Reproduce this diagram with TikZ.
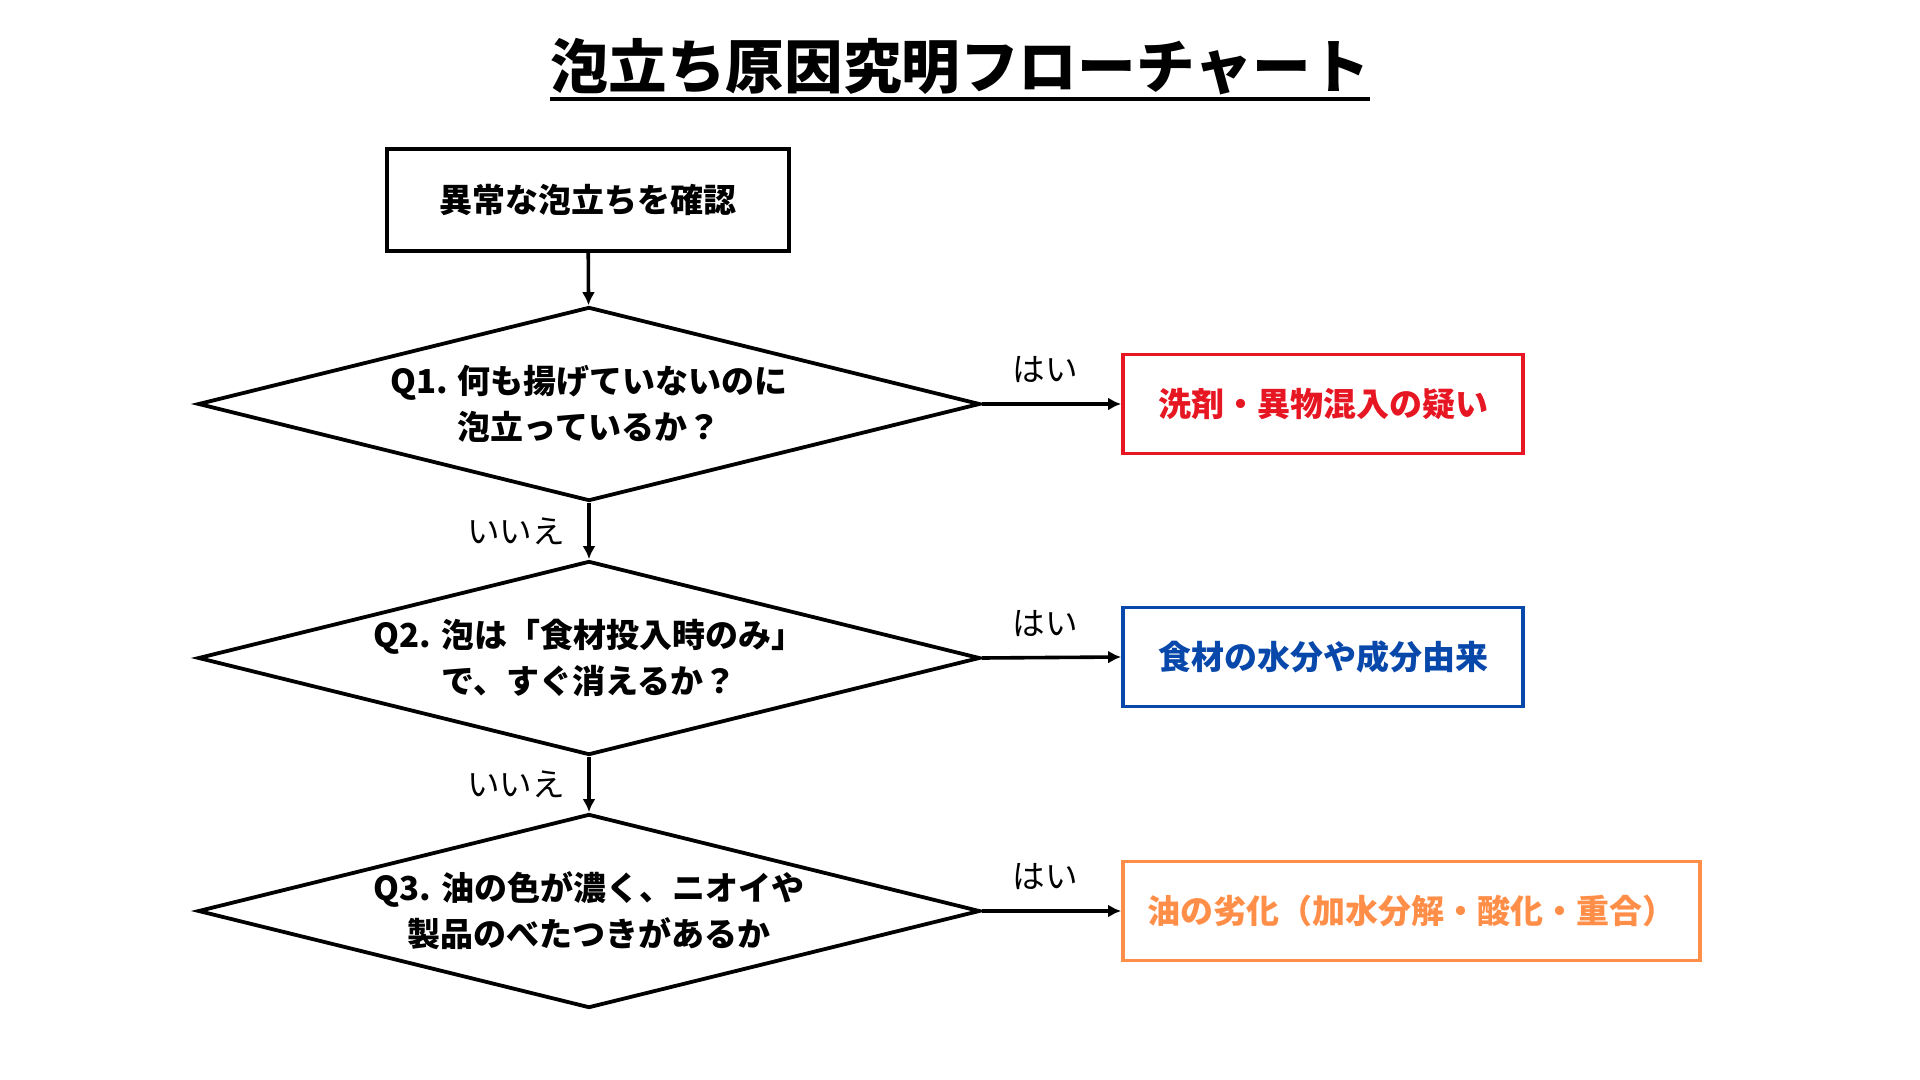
\documentclass[tikz,border=0pt]{standalone}
\usepackage{fontspec}
\setmainfont{Noto Sans CJK JP}
\usetikzlibrary{shapes.geometric,arrows.meta}
\definecolor{cred}{RGB}{230,22,34}
\definecolor{cblue}{RGB}{8,72,170}
\definecolor{corange}{RGB}{255,142,72}
\tikzset{
  px/.style={x=0.5pt,y=-0.5pt},
  body/.style={font=\fontsize{16.5}{23}\selectfont\bfseries, align=center},
  startbox/.style={draw, line width=1.9pt, rectangle, minimum width=201pt, minimum height=51pt, inner sep=0pt, body},
  question/.style={draw, line width=1.9pt, diamond, aspect=4.03, minimum width=391pt, minimum height=97pt, inner sep=0pt, body},
  result/.style={draw=#1, text=#1, line width=1.9pt, rectangle, minimum height=49.5pt, inner sep=0pt, body},
  link/.style={line width=1.8pt, -{Latex[length=6.5pt,width=6.5pt]}},
  ans/.style={font=\fontsize{16.3}{18}\selectfont, inner sep=0pt}
}
\begin{document}
\begin{tikzpicture}[px]
\useasboundingbox (0,0) rectangle (1920,1080);
\node[font=\fontsize{29.3}{34}\selectfont\bfseries, inner sep=0pt, anchor=base] (title) at (960,89) {泡立ち原因究明フローチャート};
\draw[line width=2pt] ([yshift=-5pt]title.base west) -- ([yshift=-5pt]title.base east);

\node[startbox] (start) at (588,200) {異常な泡立ちを確認};
\node[question] (q1) at (589,404) {Q1. 何も揚げていないのに\\泡立っているか？};
\node[question] (q2) at (589,658) {Q2. 泡は「食材投入時のみ」\\で、すぐ消えるか？};
\node[question] (q3) at (589,911) {Q3. 油の色が濃く、ニオイや\\製品のべたつきがあるか};

\node[result=cred, minimum width=200pt] (r1) at (1323,404) {洗剤・異物混入の疑い};
\node[result=cblue, minimum width=200pt] (r2) at (1323,657) {食材の水分や成分由来};
\node[result=corange, minimum width=288.5pt] (r3) at (1411.5,911) {油の劣化（加水分解・酸化・重合）};

\draw[link] (start) -- (q1);
\draw[link] (q1.south) -- node[ans, midway, xshift=-36.5pt] (n1) {いいえ} (q2.north);
\draw[link] (q2.south) -- node[ans, midway, xshift=-36.5pt] (n2) {いいえ} (q3.north);
\draw[link] (q1.east) -- node[ans, midway, xshift=-3pt, yshift=17pt] (y1) {はい} (r1.west);
\draw[link] (q2.east) -- node[ans, midway, xshift=-3pt, yshift=17pt] (y2) {はい} (r2.west);
\draw[link] (q3.east) -- node[ans, midway, xshift=-3pt, yshift=17pt] (y3) {はい} (r3.west);
\end{tikzpicture}
\end{document}
